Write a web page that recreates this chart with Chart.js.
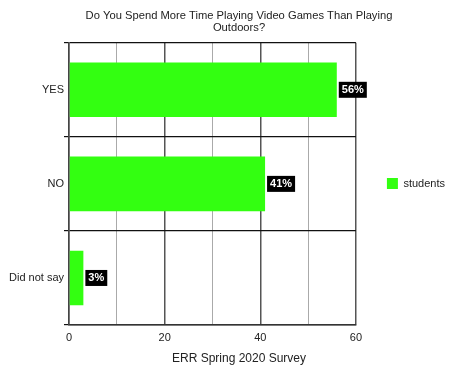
<!DOCTYPE html>
<html>
<head>
<meta charset="utf-8">
<script src="https://cdn.jsdelivr.net/npm/chart.js@4/dist/chart.umd.min.js"></script>
<style>
html,body{margin:0;padding:0;background:#fff;}
#wrap{width:475px;height:367px;}
</style>
</head>
<body>
<div id="wrap"><canvas id="c" width="475" height="367"></canvas></div>
<script>
const categories = ["YES", "NO", "Did not say"];
const studentsValues = [56, 41, 3];
const valueLabels = ["56%", "41%", "3%"];
const seriesName = "students";
const titleLines = ["Do You Spend More Time Playing Video Games Than Playing", "Outdoors?"];
const xAxisTitle = "ERR Spring 2020 Survey";
const xMin = 0, xMax = 60, xStep = 10;

const FONT = "'Liberation Sans', Arial, Helvetica, sans-serif";
const EXTRA_LEGEND_WIDTH = 14;

const legendWidenPlugin = {
  id: 'legendWiden',
  beforeLayout(chart) {
    const lg = chart.legend;
    if (lg && !lg._widened) {
      const orig = lg.fit.bind(lg);
      lg.fit = function () { orig(); this.width += EXTRA_LEGEND_WIDTH; };
      lg._widened = true;
    }
  }
};

const labelPlugin = {
  id: 'valueBoxes',
  afterDatasetsDraw(chart) {
    const ctx = chart.ctx;
    const meta = chart.getDatasetMeta(0);
    ctx.save();
    ctx.font = "bold 11px " + FONT;
    ctx.textBaseline = 'middle';
    ctx.textAlign = 'left';
    meta.data.forEach((el, i) => {
      const txt = valueLabels[i];
      const w = ctx.measureText(txt).width + 6;
      const h = 16;
      const x0 = el.x + 2;
      const y0 = el.y - h / 2;
      ctx.fillStyle = '#000';
      ctx.fillRect(x0, y0, w, h);
      ctx.fillStyle = '#fff';
      ctx.fillText(txt, x0 + 3, el.y + 0.5);
    });
    ctx.restore();
  }
};

new Chart(document.getElementById('c'), {
  type: 'bar',
  data: {
    labels: categories,
    datasets: [{
      label: seriesName,
      data: studentsValues,
      backgroundColor: '#33ff11',
      borderWidth: 0,
      categoryPercentage: 1.0,
      barPercentage: 0.58
    }]
  },
  options: {
    indexAxis: 'y',
    responsive: false,
    animation: false,
    devicePixelRatio: 1,
    layout: { padding: { left: 9, right: 6, top: 0, bottom: 0 } },
    plugins: {
      title: {
        display: true,
        text: titleLines,
        color: '#222',
        font: { family: FONT, size: 11.2, weight: 'normal', lineHeight: 1.15 },
        padding: { top: 9, bottom: 8 }
      },
      subtitle: {
        display: true,
        position: 'bottom',
        text: xAxisTitle,
        color: '#222',
        font: { family: FONT, size: 12, weight: 'normal', lineHeight: 1.0 },
        padding: { top: 3, bottom: 2 }
      },
      legend: {
        display: true,
        position: 'right',
        labels: {
          boxWidth: 11,
          boxHeight: 11,
          padding: 31,
          color: '#222',
          font: { family: FONT, size: 11 }
        }
      },
      tooltip: { enabled: false }
    },
    scales: {
      x: {
        min: xMin,
        max: xMax,
        ticks: {
          stepSize: xStep,
          color: '#222',
          font: { family: FONT, size: 11, lineHeight: 1.0 },
          padding: 7,
          maxRotation: 0,
          autoSkip: false,
          callback: (v) => (v % 20 === 0 ? String(v) : '')
        },
        grid: {
          drawTicks: false,
          color: (c) => (c.tick && c.tick.value % 20 === 0 ? '#555' : '#aaa'),
          lineWidth: (c) => (c.tick && c.tick.value % 20 === 0 ? 1.5 : 1)
        },
        border: { display: true, color: '#333', width: 1.5 }
      },
      y: {
        ticks: {
          color: '#222',
          font: { family: FONT, size: 11 },
          padding: 0
        },
        grid: {
          offset: true,
          color: '#111',
          lineWidth: 1.2,
          drawTicks: true,
          tickLength: 5
        },
        border: { display: true, color: '#444', width: 1.5 }
      }
    }
  },
  plugins: [legendWidenPlugin, labelPlugin]
});
</script>
</body>
</html>
